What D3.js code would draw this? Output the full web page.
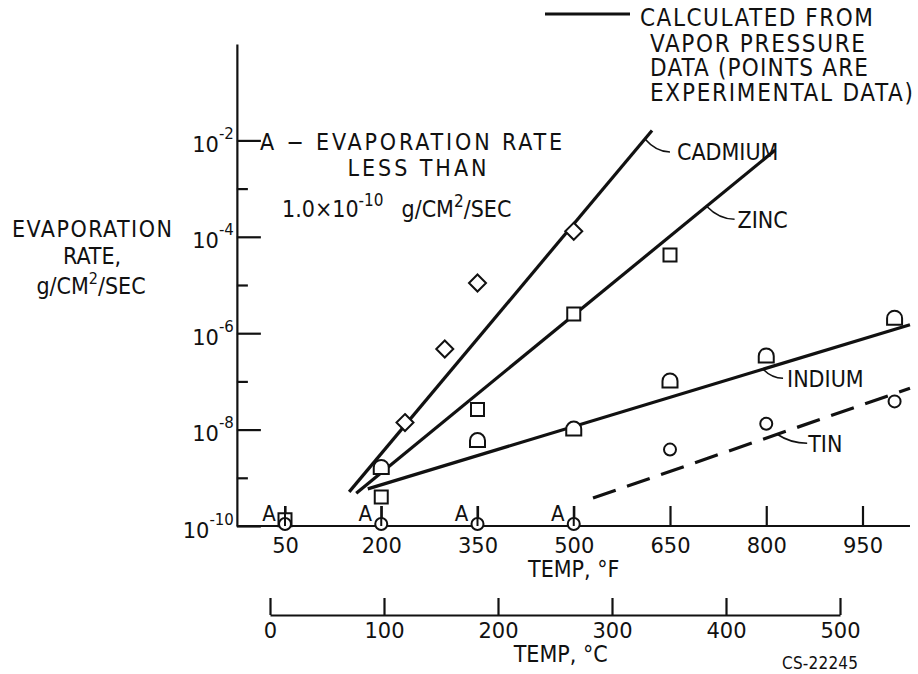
<!DOCTYPE html>
<html>
<head>
<meta charset="utf-8">
<script src="https://cdnjs.cloudflare.com/ajax/libs/d3/7.8.5/d3.min.js"></script>
<style>
  body { margin: 0; background: #fff; }
  text { fill: #111; }
</style>
</head>
<body>
<script>
/*--------------- DATA -------------*/

// axis ticks
const fTicks = [50, 200, 350, 500, 650, 800, 950];
const cTicks = [0, 100, 200, 300, 400, 500];
const majorExp = [-10, -8, -6, -4, -2];
const minorExp = [-9, -7, -5, -3];

// experimental points (temp in F, rate in g/cm2/sec)
const cadmiumTemp = [237, 299, 350, 500];
const cadmiumRate = [1.4e-8, 4.7e-7, 1.1e-5, 1.3e-4];
const zincTemp = [200, 350, 500, 650];
const zincRate = [4.0e-10, 2.6e-8, 2.5e-6, 4.2e-5];
const indiumTemp = [200, 350, 500, 650, 800, 1000];
const indiumRate = [1.6e-9, 5.8e-9, 1.0e-8, 1.0e-7, 3.3e-7, 2.0e-6];
const tinTemp = [650, 800, 1000];
const tinRate = [3.5e-9, 1.2e-8, 3.5e-8];

// "A" points, rate below 1.0e-10
const tinBelowTemp = [50, 200, 350, 500];
const zincBelowTemp = [50];
const LIMIT = 1.0e-10;

// calculated from vapor pressure (end points of each line)
const calcNames = ["CADMIUM", "ZINC", "INDIUM", "TIN"];
const calcTemp = [[150, 622], [161, 814], [179, 1024], [530, 1024]];
const calcRate = [[5.1e-10, 1.6e-2], [4.8e-10, 6.3e-3], [5.9e-10, 1.5e-6], [3.8e-10, 7.2e-8]];
const leaderTemp = [611, 707, 795, 817];

/*--------------- SETUP -------------*/

const SIZE = {X: 918, Y: 674};
const COND = "'DejaVu Sans Condensed', 'DejaVu Sans', sans-serif";
const PLAIN = "'DejaVu Sans', sans-serif";
const INK = "#111";

const svg = d3.select("body").append("svg")
    .attr("width", SIZE.X)
    .attr("height", SIZE.Y);

svg.append("rect").attr("width", SIZE.X).attr("height", SIZE.Y).attr("fill", "#fff");

// scales
const x = d3.scaleLinear().domain([50, 950]).range([285, 862.5]);
const y = d3.scaleLog().domain([1e-10, 1]).range([526, 44]);
const xc = d3.scaleLinear().domain([0, 500]).range([270, 840]);

// small text helper, yc = vertical centre of capitals
function label(g, px, yc, str, size, opts = {}) {
    const t = g.append("text")
        .attr("x", px)
        .attr("y", yc + size * 0.365)
        .attr("font-family", opts.font || COND)
        .attr("font-stretch", "condensed")
        .attr("font-size", size)
        .attr("text-anchor", opts.anchor || "start")
        .text(str);
    if (opts.width) t.attr("textLength", opts.width).attr("lengthAdjust", "spacing");
    return t;
}

/*--------------- AXES -------------*/

// y axis, ticks point inward
const yMajor = svg.append("g")
    .attr("transform", `translate(${x(-25)},0)`)
    .call(d3.axisLeft(y).tickValues(majorExp.map(e => Math.pow(10, e)))
        .tickSize(-24).tickSizeOuter(0).tickFormat(""));
const yMinor = svg.append("g")
    .attr("transform", `translate(${x(-25)},0)`)
    .call(d3.axisLeft(y).tickValues(minorExp.map(e => Math.pow(10, e)))
        .tickSize(-11).tickSizeOuter(0).tickFormat(""));
yMinor.select(".domain").remove();
svg.selectAll(".tick line, .domain").attr("stroke", INK).attr("stroke-width", 2.2);

// y tick labels 10^n
majorExp.forEach(e => {
    const ty = y(Math.pow(10, e));
    const t = svg.append("text")
        .attr("x", x(-25) - 3)
        .attr("y", ty + 11.5)
        .attr("text-anchor", "end")
        .attr("font-family", PLAIN)
        .attr("font-size", 21);
    t.append("tspan").text("10");
    t.append("tspan").attr("dy", -13).attr("font-size", 15).text("-" + Math.abs(e));
});

// F axis
const xAxis = svg.append("g")
    .attr("transform", `translate(0,${y(LIMIT)})`)
    .call(d3.axisBottom(x).tickValues(fTicks).tickSize(-20).tickSizeOuter(0).tickPadding(12));
xAxis.select(".domain").remove();
xAxis.append("line")
    .attr("x1", x(-25)).attr("x2", x(1024))
    .attr("stroke", INK).attr("stroke-width", 2.2);
xAxis.selectAll("line").attr("stroke", INK).attr("stroke-width", 2.2);
xAxis.attr("font-family", PLAIN).attr("font-size", 21);
xAxis.selectAll("text").attr("fill", INK);

label(svg, x(500), 569, "TEMP, \u00B0F", 23, {anchor: "middle"});

// C axis
const cAxis = svg.append("g")
    .attr("transform", "translate(0,615)")
    .call(d3.axisBottom(xc).tickValues(cTicks).tickSize(-17).tickSizeOuter(0).tickPadding(8));
cAxis.selectAll("line, .domain").attr("stroke", INK).attr("stroke-width", 2.2);
cAxis.attr("font-family", PLAIN).attr("font-size", 21);
cAxis.selectAll("text").attr("fill", INK);

label(svg, xc(255), 654, "TEMP, \u00B0C", 23, {anchor: "middle"});
label(svg, 820, 663, "CS-22245", 17, {anchor: "middle", width: 76});

/*--------------- TITLES -------------*/

// y label
label(svg, 92, 229, "EVAPORATION", 23, {anchor: "middle", width: 160});
label(svg, 92, 256, "RATE,", 23, {anchor: "middle"});
const yl = svg.append("text")
    .attr("x", 91).attr("y", 285 + 8.5)
    .attr("text-anchor", "middle")
    .attr("font-family", COND).attr("font-stretch", "condensed").attr("font-size", 23);
yl.append("tspan").text("g/CM");
yl.append("tspan").attr("dy", -10).attr("font-size", 16).text("2");
yl.append("tspan").attr("dy", 10).text("/SEC");

// legend
const legend = svg.append("g");
legend.append("line")
    .attr("x1", 545).attr("x2", 630).attr("y1", 14).attr("y2", 14)
    .attr("stroke", INK).attr("stroke-width", 3);
label(legend, 640, 17, "CALCULATED FROM", 24, {width: 233});
label(legend, 650, 43, "VAPOR PRESSURE", 24, {width: 215});
label(legend, 650, 67, "DATA (POINTS ARE", 24, {width: 218});
label(legend, 650, 92, "EXPERIMENTAL DATA)", 24, {width: 263});

// "A" note
const note = svg.append("g");
label(note, 260, y(1e-2) + 1, "A \u2212 EVAPORATION RATE", 23, {width: 302});
label(note, 417, 168, "LESS THAN", 23, {anchor: "middle", width: 139});
const nl = note.append("text")
    .attr("x", 282).attr("y", 208 + 8.5)
    .attr("font-family", COND).attr("font-stretch", "condensed").attr("font-size", 23);
nl.append("tspan").text("1.0\u00D710");
nl.append("tspan").attr("dy", -11).attr("font-size", 17).text("-10");
nl.append("tspan").attr("dy", 11).attr("dx", 18).text("g/CM");
nl.append("tspan").attr("dy", -10).attr("font-size", 17).text("2");
nl.append("tspan").attr("dy", 10).text("/SEC");

/*--------------- LINES -------------*/

function lineRate(i, t) {
    const [t0, t1] = calcTemp[i];
    const [r0, r1] = calcRate[i].map(Math.log10);
    return Math.pow(10, r0 + (r1 - r0) * (t - t0) / (t1 - t0));
}

const lineGen = d3.line().x(d => x(d[0])).y(d => y(d[1]));

calcNames.forEach((name, i) => {
    svg.append("path")
        .attr("d", lineGen(d3.zip(calcTemp[i], calcRate[i])))
        .attr("fill", "none")
        .attr("stroke", INK)
        .attr("stroke-width", 3.2)
        .attr("stroke-dasharray", name === "TIN" ? "24,12" : null);
});

// leaders and names
const leaderOff = [[25, 13, 32], [28, 13, 31], [20, 9, 24], [30, 9, 31]];
calcNames.forEach((name, i) => {
    const x0 = x(leaderTemp[i]);
    const y0 = y(lineRate(i, leaderTemp[i]));
    const [dx, dy, tx] = leaderOff[i];
    svg.append("path")
        .attr("d", `M${x0},${y0} Q${x0 + dx * 0.45},${y0 + dy} ${x0 + dx},${y0 + dy}`)
        .attr("fill", "none").attr("stroke", INK).attr("stroke-width", 1.6);
    label(svg, x0 + tx, y0 + dy, name, 23);
});

/*--------------- POINTS -------------*/

const marks = svg.append("g")
    .attr("fill", "#fff").attr("stroke", INK).attr("stroke-width", 2);

const diamond = "M0,-8.5L8.5,0L0,8.5L-8.5,0Z";
const square = "M-6.5,-6.5H6.5V6.5H-6.5Z";
const dome = "M-7.5,6V-0.5A7.5,7.5 0 0 1 7.5,-0.5V6Z";

function drawPoints(temps, rates, shape) {
    marks.selectAll(null)
        .data(d3.zip(temps, rates))
        .enter()
        .append("path")
        .attr("d", shape)
        .attr("transform", d => `translate(${x(d[0])},${y(d[1])})`);
}

drawPoints(cadmiumTemp, cadmiumRate, diamond);
drawPoints(zincTemp, zincRate, square);
drawPoints(indiumTemp, indiumRate, dome);
drawPoints(zincBelowTemp, zincBelowTemp.map(() => 1.35e-10), square);

marks.selectAll(null)
    .data(tinTemp.map((t, i) => [t, tinRate[i]]).concat(tinBelowTemp.map(t => [t, LIMIT])))
    .enter()
    .append("circle")
    .attr("r", 6)
    .attr("cx", d => x(d[0]))
    .attr("cy", d => y(d[1]) - 2);

// tick through the "A" symbols and the letter A
tinBelowTemp.forEach(t => {
    marks.append("line")
        .attr("x1", x(t)).attr("x2", x(t))
        .attr("y1", y(LIMIT)).attr("y2", y(LIMIT) - 20);
    label(svg, x(t) - 16, y(LIMIT) - 13, "A", 22, {anchor: "middle"});
});
</script>
</body>
</html>
